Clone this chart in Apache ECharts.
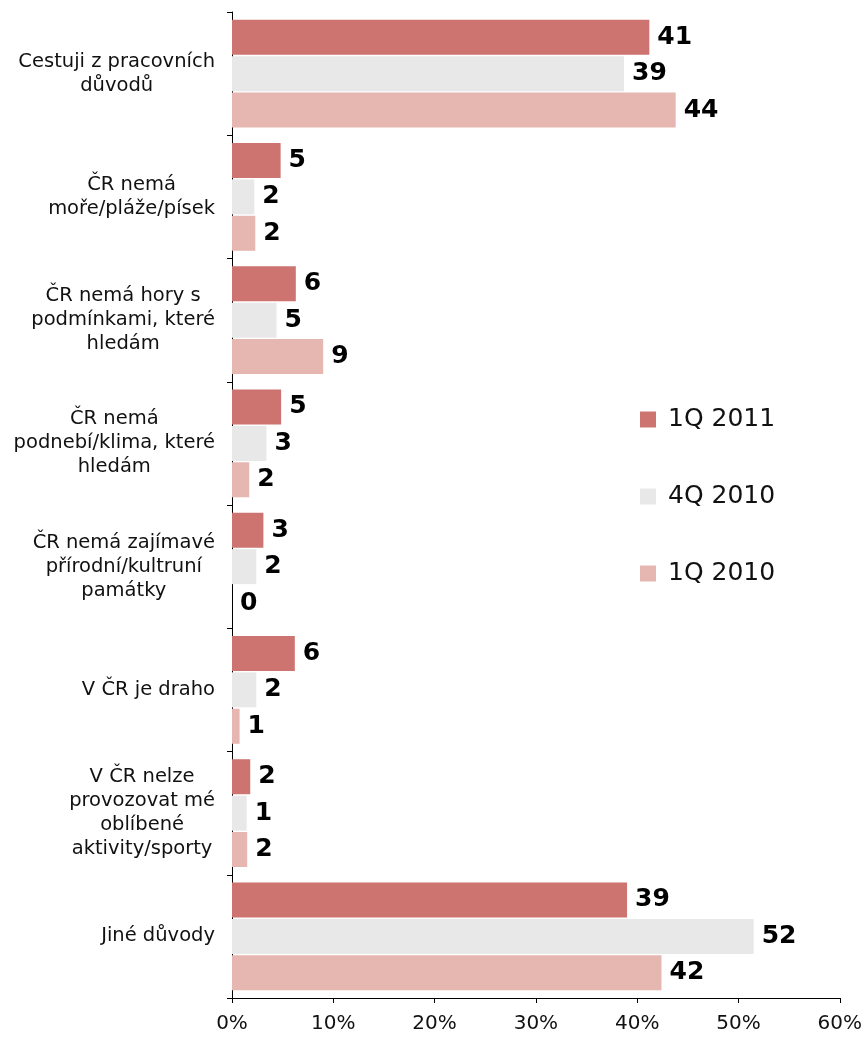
<!DOCTYPE html>
<html>
<head>
<meta charset="utf-8">
<script src="https://cdn.jsdelivr.net/npm/echarts@6/dist/echarts.min.js"></script>
<style>
  html, body { margin: 0; padding: 0; background: #fff; }
  #chart { width: 865px; height: 1038px; }
</style>
</head>
<body>
<div id="chart"></div>
<script>
// kategorie (shora dolů)
const categories = [
  'Cestuji z pracovních\ndůvodů',
  'ČR nemá\nmoře/pláže/písek',
  'ČR nemá hory s\npodmínkami, které\nhledám',
  'ČR nemá\npodnebí/klima, které\nhledám',
  'ČR nemá zajímavé\npřírodní/kultruní\npamátky',
  'V ČR je draho',
  'V ČR nelze\nprovozovat mé\noblíbené\naktivity/sporty',
  'Jiné důvody'
]
const seriesNames = ['1Q 2011', '4Q 2010', '1Q 2010']
// délky sloupců
const q1_2011 = [41.2, 4.8, 6.3, 4.85, 3.1, 6.2, 1.8, 39.0]
const q4_2010 = [38.7, 2.2, 4.4, 3.4, 2.4, 2.4, 1.45, 51.5]
const q1_2010 = [43.8, 2.3, 9.0, 1.7, 0, 0.75, 1.5, 42.4]
// popisky hodnot
const lab_q1_2011 = ['41', '5', '6', '5', '3', '6', '2', '39']
const lab_q4_2010 = ['39', '2', '5', '3', '2', '2', '1', '52']
const lab_q1_2010 = ['44', '2', '9', '2', '0', '1', '2', '42']
const xTicks = [0, 10, 20, 30, 40, 50, 60]

const colors = ['#CD7470', '#E8E8E8', '#E6B6B1']
const font = 'Verdana, "DejaVu Sans", sans-serif'

function makeSeries (name, values, labels, color) {
  return {
    name: name,
    type: 'bar',
    data: values,
    barWidth: 35,
    barGap: '4%',
    itemStyle: { color: color },
    label: {
      show: true,
      position: 'right',
      distance: 8,
      fontFamily: font,
      fontWeight: 'bold',
      fontSize: 25,
      color: '#000',
      formatter: p => labels[p.dataIndex]
    }
  }
}

const chart = echarts.init(document.getElementById('chart'))
chart.setOption({
  animation: false,
  color: colors,
  legend: {
    orient: 'vertical',
    left: 635,
    top: 402,
    itemWidth: 16,
    itemHeight: 16,
    itemGap: 52,
    icon: 'rect',
    textStyle: { fontFamily: font, fontSize: 25, color: '#111', padding: [0, 0, 0, 7] },
    data: seriesNames
  },
  grid: { left: 232, right: 23, top: 12, bottom: 40, containLabel: false },
  xAxis: {
    type: 'value',
    min: xTicks[0],
    max: xTicks[xTicks.length - 1],
    interval: 10,
    splitLine: { show: false },
    axisLine: { show: true, lineStyle: { color: '#000' } },
    axisTick: { show: true, length: 5, lineStyle: { color: '#000' } },
    axisLabel: {
      margin: 16,
      fontFamily: font,
      fontSize: 20,
      color: '#111',
      formatter: v => v + '%'
    }
  },
  yAxis: {
    type: 'category',
    inverse: true,
    data: categories,
    axisLine: { show: true, lineStyle: { color: '#000' } },
    axisTick: { show: true, length: 5, lineStyle: { color: '#000' } },
    axisLabel: {
      margin: 17,
      align: 'right',
      // blok zarovnaný vpravo, řádky uvnitř na střed
      formatter: v => v.split('\n').map(s => '{c|' + s + '}').join('\n'),
      rich: {
        c: {
          align: 'center',
          fontFamily: font,
          fontSize: 19.5,
          lineHeight: 24,
          color: '#111'
        }
      }
    }
  },
  series: [
    makeSeries(seriesNames[0], q1_2011, lab_q1_2011, colors[0]),
    makeSeries(seriesNames[1], q4_2010, lab_q4_2010, colors[1]),
    makeSeries(seriesNames[2], q1_2010, lab_q1_2010, colors[2])
  ]
})
</script>
</body>
</html>
